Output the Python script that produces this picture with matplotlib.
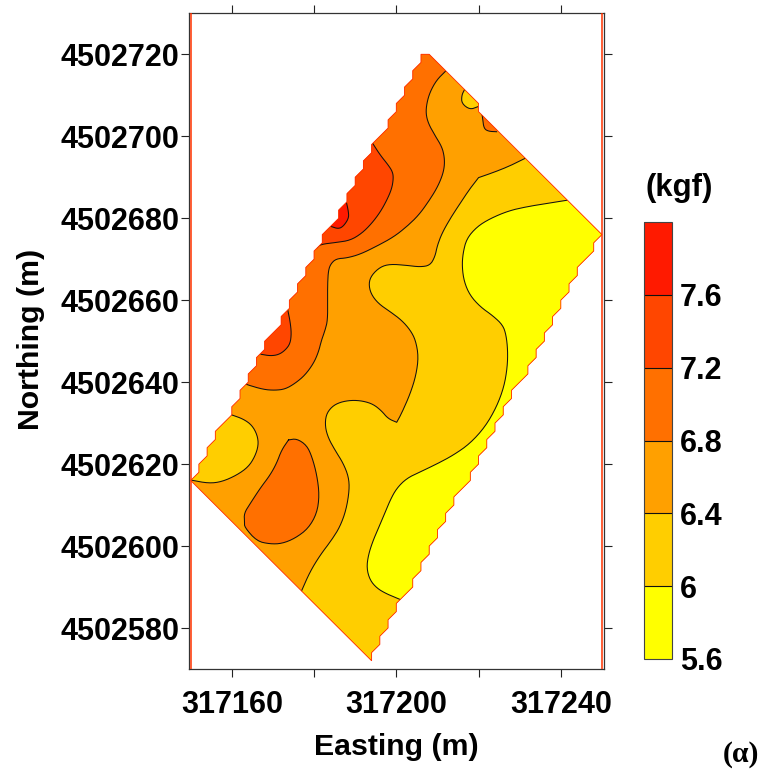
import numpy as np
import matplotlib
matplotlib.use("Agg")
import matplotlib.pyplot as plt
from matplotlib.patches import Polygon
from matplotlib.colors import ListedColormap, BoundaryNorm
from matplotlib.cm import ScalarMappable

plt.rcParams['font.family'] = ['Liberation Sans', 'DejaVu Sans']

E0 = 317000
N0 = 4502000

LEVELS = [5.6, 6.0, 6.4, 6.8, 7.2, 7.6, 8.0]
LEVEL_LABELS = ['5.6', '6', '6.4', '6.8', '7.2', '7.6']
COLORS = ['#FFFF00', '#FFCE00', '#FFA000', '#FF7000', '#FF4600', '#FF1A00']
X_TICKS = [317160, 317180, 317200, 317220, 317240]
X_LABELS = ['317160', '', '317200', '', '317240']
Y_TICKS = [4502580, 4502600, 4502620, 4502640, 4502660, 4502680, 4502700, 4502720]

# surveyed field outline (2 m lattice), offsets from E0 / N0
SITE = [(206,720),(206,718),(204,716),(204,714),(202,712),(202,710),(200,708),(200,706),
        (198,704),(198,702),(196,700),(194,698),(194,696),(192,694),(192,692),(190,690),
        (190,688),(188,686),(188,684),(186,682),(186,680),(184,678),(182,676),(182,674),
        (180,672),(180,670),(178,668),(178,666),(176,664),(176,662),(174,660),(174,658),
        (172,656),(172,654),(170,652),(168,650),(168,648),(166,646),(166,644),(164,642),
        (164,640),(162,638),(162,636),(160,634),(160,632),(158,630),(156,628),(156,626),
        (154,624),(154,622),(152,620),(152,618),(150,616),(194,572),(194,574),(196,576),
        (196,578),(198,580),(198,582),(200,584),(200,586),(202,588),(204,590),(204,592),
        (206,594),(206,596),(208,598),(208,600),(210,602),(210,604),(212,606),(212,608),
        (214,610),(214,612),(216,614),(218,616),(218,618),(220,620),(220,622),(222,624),
        (222,626),(224,628),(224,630),(226,632),(226,634),(228,636),(228,638),(230,640),
        (232,642),(232,644),(234,646),(234,648),(236,650),(236,652),(238,654),(238,656),
        (240,658),(240,660),(242,662),(242,664),(244,666),(244,668),(246,670),(248,672),
        (248,674),(250,676),(220,706),(220,708),(208,720)]

# isolines
LINE_68 = [(212.0,715.9),(209.8,713.7),(208.2,710.8),(207.4,708.0),(207.2,705.5),(207.8,703.1),
           (209.4,700.2),(211.1,697.4),(211.7,694.9),(211.7,692.5),(211.1,690.1),(209.8,687.2),
           (207.8,684.0),(205.4,680.7),(202.5,677.9),(199.3,675.4),(195.3,673.2),(191.2,671.2),
           (188.0,670.3),(185.4,670.1),(184.1,668.9),(183.5,667.3),(183.3,664.1),(183.3,660.0),
           (183.3,655.1),(182.7,652.7),(181.8,650.2),(181.1,647.4),(179.9,644.6),(177.8,641.7),
           (175.4,639.7),(173.0,638.3),(170.5,638.0),(167.7,638.2),(163.6,639.4),(162.8,639.8)]
CLOSE_68 = [(150,650),(195,730),(215,725)]

LINE_72A = [(194.3,698.2),(196.1,695.4),(198.1,692.9),(199.1,691.3),(199.3,689.7),(198.9,687.2),
            (197.7,684.4),(196.1,681.5),(194.0,678.7),(191.6,676.3),(188.8,674.6),(185.5,674.1),
            (181.5,673.6),(180.7,672.8)]
CLOSE_72A = [(175,680),(190,705)]

LINE_76 = [(187.8,684.2),(188.4,681.5),(188.4,679.9),(187.1,678.0),(185.9,677.4),(184.1,678.0)]
CLOSE_76 = [(180,684),(186,690)]

LINE_72B = [(173.6,657.7),(174.2,654.7),(174.5,651.9),(174.2,649.4),(173.0,647.8),(171.4,646.7),
            (169.4,646.4),(167.1,646.8)]
CLOSE_72B = [(160,650),(170,665)]

LINE_64_PATCH = [(216.6,711.4),(215.9,710.0),(215.9,708.0),(217.9,706.5),(219.8,707.2)]
CLOSE_64_PATCH = [(222,712),(218,714)]

LINE_68_PATCH = [(220.8,705.6),(221.0,704.3),(221.3,701.9),(222.4,701.2),(224.4,701.1)]
CLOSE_68_PATCH = [(228,705),(223,708)]

LINE_64 = [(231.3,694.6),(227.7,692.8),(224.0,691.3),(220.0,689.9),(220.0,689.9),(217.9,687.2),
           (215.5,683.6),(213.1,679.9),(211.1,676.3),(210.0,673.4),(209.4,670.6),(208.2,668.5),
           (205.8,668.1),(202.5,668.5),(198.5,668.8),(196.1,668.1),(194.0,666.1),(193.3,664.1),
           (193.8,661.6),(195.6,659.2),(198.5,657.2),(201.3,655.1),(203.4,652.7),(204.7,650.2),
           (205.4,646.2),(204.8,641.7),(203.4,637.2),(201.3,632.4),(200.1,630.2),(200.1,630.2),
           (198.0,631.1),(196.4,633.0),(194.4,634.6),(191.9,635.4),(189.1,635.6),(186.3,635.1),
           (184.3,634.0),(182.9,632.0),(182.7,629.1),(183.5,626.3),(185.1,623.4),(187.1,620.2),
           (188.4,616.9),(188.6,613.7),(187.8,608.8),(186.3,604.7),(184.3,601.5),(181.5,597.8),
           (179.0,593.7),(177.0,589.1),(176.6,588.3)]
CLOSE_64 = [(195,565),(260,640),(260,680),(236,700)]

LINE_60 = [(241.6,684.4),(236.6,683.6),(231.7,682.8),(227.3,681.8),(222.8,679.9),(219.6,677.9),
           (217.1,675.0),(216.2,671.4),(216.0,668.1),(216.5,664.5),(217.9,661.2),(220.4,658.4),
           (223.6,656.1),(225.9,653.9),(226.7,651.5),(227.1,647.8),(227.0,643.7),(226.2,638.9),
           (224.4,634.0),(221.6,629.1),(217.9,625.0),(213.9,622.2),(209.8,620.0),(205.8,618.1),
           (202.5,616.5),(200.1,614.1),(198.5,611.2),(196.5,606.3),(194.4,601.5),(193.2,597.8),
           (192.8,594.6),(193.6,591.7),(195.3,589.7),(197.7,588.3),(200.9,587.0),(202.0,586.5)]
CLOSE_60 = [(215,585),(260,650),(260,680),(245,690)]

LINE_64_WEST = [(160.0,632.0),(162.8,631.0),(164.9,629.5),(166.2,627.1),(166.5,624.6),(165.6,621.8),
                (164.0,619.3),(161.2,617.3),(157.6,615.7),(154.4,615.3),(150.1,616.1)]
CLOSE_64_WEST = [(148,625),(158,636)]

LOOP_68_SOUTH = [(173.8,625.9),(175.8,626.2),(178.2,624.6),(179.5,621.8),(180.7,617.3),(181.3,612.4),
                 (180.7,608.0),(178.6,604.3),(175.4,601.9),(172.2,600.6),(169.3,600.5),(166.1,601.2),
                 (163.1,604.6),(163.1,605.9),(163.0,608.0),(164.5,610.4),(166.9,614.1),(169.3,617.3),
                 (170.9,620.2),(172.1,623.4),(173.8,625.9)]


def smooth(points, rounds=2):
    p = np.asarray(points, dtype=float)
    for _ in range(rounds):
        q = 0.75 * p[:-1] + 0.25 * p[1:]
        r = 0.25 * p[:-1] + 0.75 * p[1:]
        mid = np.empty((2 * len(q), 2))
        mid[0::2] = q
        mid[1::2] = r
        p = np.vstack([p[:1], mid, p[-1:]])
    return p


def abs_xy(p):
    return np.asarray(p, dtype=float) + [E0, N0]


fig = plt.figure(figsize=(7.61, 7.71), dpi=100)
W, H = 761, 771
ax = fig.add_axes([189 / W, (H - 669) / H, (604 - 189) / W, (669 - 13.3) / H])
ax.set_xlim(317149.6, 317250.5)
ax.set_ylim(4502570, 4502730)

site_patch = Polygon(abs_xy(SITE), closed=True, facecolor=COLORS[2], edgecolor='none', zorder=1)
ax.add_patch(site_patch)

LAYERS = [
    (LINE_68, CLOSE_68, COLORS[3]),
    (LINE_72A, CLOSE_72A, COLORS[4]),
    (LINE_76, CLOSE_76, COLORS[5]),
    (LINE_72B, CLOSE_72B, COLORS[4]),
    (LINE_64_PATCH, CLOSE_64_PATCH, COLORS[1]),
    (LINE_68_PATCH, CLOSE_68_PATCH, COLORS[3]),
    (LINE_64, CLOSE_64, COLORS[1]),
    (LINE_60, CLOSE_60, COLORS[0]),
    (LINE_64_WEST, CLOSE_64_WEST, COLORS[1]),
    (LOOP_68_SOUTH, [], COLORS[3]),
]
for z, (line, close, color) in enumerate(LAYERS):
    curve = abs_xy(smooth(line))
    outline = np.vstack([curve, abs_xy(close)]) if close else curve
    fill = Polygon(outline, closed=True, facecolor=color, edgecolor='none', zorder=2 + z * 0.01)
    ax.add_patch(fill)
    fill.set_clip_path(site_patch)

for line, close, color in LAYERS:
    curve = abs_xy(smooth(line))
    ln, = ax.plot(curve[:, 0], curve[:, 1], color='#111111', lw=0.75, zorder=3,
                  solid_joinstyle='round')
    ln.set_clip_path(site_patch)

ax.add_patch(Polygon(abs_xy(SITE), closed=True, facecolor='none', edgecolor='#FF2A00',
                     lw=0.6, zorder=4))
ax.axvline(E0 + 150, color='#FF3300', lw=1.1, zorder=4)
ax.axvline(E0 + 250, color='#FF3300', lw=1.1, zorder=4)

ax.set_xticks(X_TICKS)
ax.set_xticklabels(X_LABELS)
ax.set_yticks(Y_TICKS)
ax.set_yticklabels([str(v) for v in Y_TICKS])
ax.tick_params(axis='both', which='major', direction='out', length=6, width=0.8,
               top=True, right=True, color='#222222', labelsize=22)
ax.tick_params(axis='x', pad=9)
ax.tick_params(axis='y', pad=1)
for lab in ax.get_xticklabels() + ax.get_yticklabels():
    lab.set_fontweight('bold')
for s in ax.spines.values():
    s.set_linewidth(0.9)
    s.set_color('#333333')
ax.set_xlabel('Easting (m)', fontsize=21.8, fontweight='bold')
ax.xaxis.set_label_coords(0.5, (669 - 733) / 655.7)
ax.set_ylabel('Northing (m)', fontsize=21.8, fontweight='bold')
ax.yaxis.set_label_coords((45 - 189) / 415, 0.502)

cax = fig.add_axes([644.3 / W, (H - 659) / H, 27.4 / W, 437 / H])
cmap = ListedColormap(COLORS)
norm = BoundaryNorm(LEVELS, cmap.N)
cb = fig.colorbar(ScalarMappable(norm=norm, cmap=cmap), cax=cax, ticks=LEVELS[:-1],
                  spacing='proportional', drawedges=True)
cb.ax.minorticks_off()
cb.ax.set_yticklabels(LEVEL_LABELS)
cb.ax.tick_params(length=0, pad=6, labelsize=22)
for lab in cb.ax.get_yticklabels():
    lab.set_fontweight('bold')
cb.dividers.set_color('#111111')
cb.dividers.set_linewidth(0.8)
cb.outline.set_edgecolor('#444444')
cb.outline.set_linewidth(0.8)

fig.text(679 / W, 1 - 188 / H, '(kgf)', fontsize=22.4, fontweight='bold', ha='center', va='center')
fig.text(741 / W, 1 - 754 / H, '(α)', fontsize=21.5, fontweight='bold', ha='center', va='center',
         family=['Liberation Serif', 'DejaVu Serif'])

fig.savefig('out.png', dpi=100)
